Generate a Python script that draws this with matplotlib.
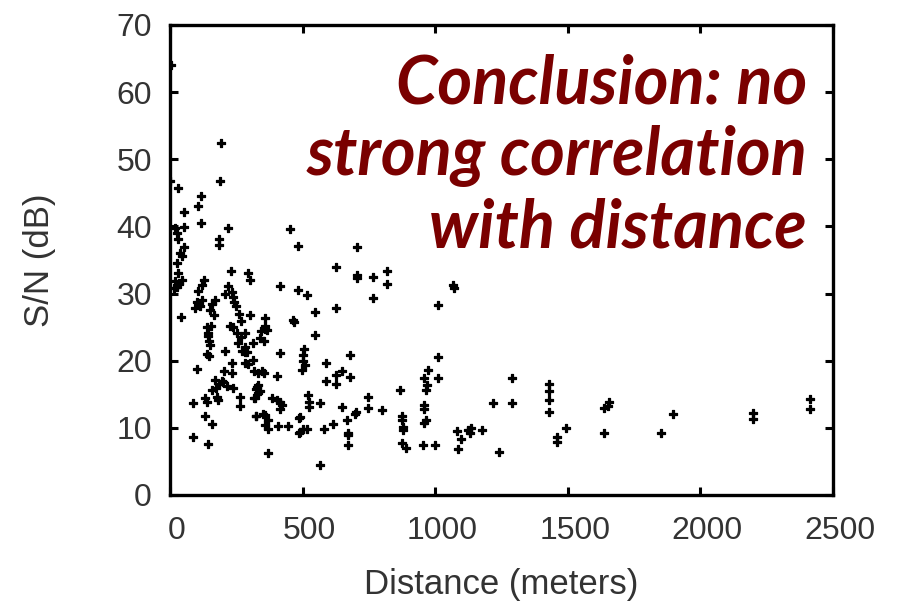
import numpy as np
import matplotlib
matplotlib.use("Agg")
import matplotlib.pyplot as plt
import matplotlib.transforms as mtrans

# S/N vs distance
dist = [5, 0, 31, 117, 107, 54, 117, 54, 19, 25, 29, 54, 38, 44, 25, 30, 20, 35, 45, 28, 15,
        128, 122, 107, 100, 115, 120, 94, 41, 88, 88, 100, 132, 132,
        138, 144, 151, 157, 157, 166, 140, 142, 145, 147, 150, 140, 146, 156, 170, 160,
        176, 181, 170, 185, 195, 185, 185, 189, 193, 175, 200,
        205, 207, 207, 220, 220, 229, 232, 241, 248, 236, 225, 232, 232, 215, 237, 239,
        251, 256, 264, 264, 283, 283, 283, 283, 295, 302, 302, 268, 273, 290, 294, 268, 262,
        313, 314, 318, 318, 323, 328, 333, 325, 338, 330, 339, 346, 358, 358, 358, 358, 358,
        371, 371, 371, 383, 402, 402, 408, 415, 415, 421, 415, 415, 365, 343, 354, 333, 354,
        350, 326, 322,
        446, 452, 465, 468, 481, 481, 490, 490, 505, 501, 501, 509, 498, 487, 500, 487, 515,
        521, 525, 526, 547, 547, 566, 566, 581, 588, 588, 515,
        616, 626, 626, 626, 626, 647, 647, 666, 670, 672, 670, 679, 679, 697, 701, 706, 706,
        706, 748, 748, 767, 767, 798, 817, 817, 867, 873, 873, 880, 880, 873, 890,
        955, 999, 974, 958, 970, 965, 1011, 1011, 957, 957, 965, 957, 1011, 1068, 1070, 1082,
        1086, 1099, 1125, 1131, 1135, 1175, 1217, 1240, 1289, 1289, 1428, 1428, 1428, 1428,
        1458, 1458, 1492, 1636, 1656, 1650, 1636, 1851, 1897, 2199, 2199, 2413, 2413]
snr = [64, 46.8, 45.7, 44.5, 43, 42.2, 40.5, 39.9, 39.7, 39, 38.2, 37, 36, 35.6, 34.5, 33, 31.8,
       31.5, 32, 31, 30.8,
       32, 31.3, 30.4, 28.8, 28.2, 29, 27.9, 26.5, 13.7, 8.6, 18.7, 14.4, 11.7,
       13.9, 7.6, 27.5, 10.6, 15.6, 26.8, 25, 24.2, 23.7, 22.9, 22.4, 21, 20.7, 25.2, 29, 28.5,
       14.6, 14.1, 17.2, 16.5, 17, 38.2, 37.2, 46.8, 52.4, 16, 16.8,
       18.4, 21.5, 29.9, 39.7, 31.1, 33.4, 30.3, 28.7, 28.2, 29.5, 25.2, 19.6, 18.2, 16.2, 16, 25,
       24.1, 22.6, 14.6, 13.3, 24.1, 22.1, 21.3, 19.6, 33, 32, 26.8, 25.9, 21.5, 21.3, 19.5, 23.6, 27,
       22.6, 20.1, 18.4, 14.4, 11.7, 16.1, 16.4, 15.8, 15.5, 15.2, 23.4, 18.4, 24.7, 26.3, 25.2,
       11.9, 10.4,
       11.2, 9.9, 6.3, 14.5, 17.7, 14.1, 10.3, 13.9, 12.8, 13.4, 21.2, 31.1, 24.6, 24.4, 23, 18.1,
       18.1, 12.1, 11.8, 14.4,
       10.3, 39.6, 26.1, 25.7, 37.1, 30.6, 11.6, 9.4, 21.7, 20.9, 19.9, 19.4, 18.6, 11.5, 9.8, 9.2,
       29.8, 14.9, 13.1, 13.8, 23.8, 27.2, 13.7, 4.5, 9.9, 19.6, 17, 9.8,
       10.6, 34, 27.8, 17.9, 16.6, 18.4, 13.1, 11.2, 9.2, 8.9, 7.4, 20.9, 17.6, 12.1, 12.3, 36.9,
       32.8, 32.3, 14.6, 12.9, 32.5, 29.3, 12.6, 33.3, 31.5, 15.6, 11.7, 11.2, 10.2, 9.7, 7.8, 7,
       7.4, 7.4, 18.6, 17.5, 16.4, 15.6, 20.6, 17.4, 13.4, 12.8, 11.2, 10.7, 28.3, 31.3, 30.9, 9.6,
       6.8, 8.3, 9.7, 9.2, 10, 9.7, 13.7, 6.4, 17.5, 13.7, 16.6, 15.5, 14.1, 12.3,
       8.6, 7.9, 10, 13, 13.9, 13.3, 9.3, 9.3, 12.1, 12.2, 11.3, 14.3, 12.8]

x_ticks = [0, 500, 1000, 1500, 2000, 2500]
y_ticks = [0, 10, 20, 30, 40, 50, 60, 70]
note = "Conclusion: no\nstrong correlation\nwith distance"

W, H = 897, 605
fig = plt.figure(figsize=(W / 100, H / 100), dpi=100)
ax = fig.add_axes([170 / W, 1 - 495 / H, (833 - 170) / W, (495 - 25) / H])

ax.scatter(dist, snr, marker="P", s=26, color="black", edgecolors="black", linewidths=0.9)

ax.set_xlim(0, 2500)
ax.set_ylim(0, 70)
ax.set_xticks(x_ticks)
ax.set_yticks(y_ticks)
for s in ax.spines.values():
    s.set_linewidth(2.4)
ax.tick_params(direction="in", length=6, width=2.2, top=True, right=True,
               labelsize=23, labelcolor="#333333")
ax.tick_params(axis="x", pad=15)
ax.tick_params(axis="y", pad=13)
# x labels sit a little right of their ticks in the original
shift = mtrans.ScaledTranslation(7 / 100, 0, fig.dpi_scale_trans)
for lab in ax.get_xticklabels():
    lab.set_family("Liberation Sans")
    lab.set_transform(lab.get_transform() + shift)
for lab in ax.get_yticklabels():
    lab.set_family("Liberation Sans")

ax.set_xlabel("Distance (meters)", fontsize=25, color="#333333", family="Liberation Sans",
              va="top")
ax.set_ylabel("S/N (dB)", fontsize=25, color="#333333", family="Liberation Sans")
ax.xaxis.set_label_coords(0.5, (495 - 568) / 470)
ax.yaxis.set_label_coords((56 - 170) / 663, 0.5)

fig.text(807 / W, 1 - 54 / H, note, ha="right", va="top", fontsize=48,
         color="#7a0000", fontweight="bold", fontstyle="italic",
         family=["Lato", "DejaVu Sans"], linespacing=1.2)

fig.savefig("out.png", dpi=100)
